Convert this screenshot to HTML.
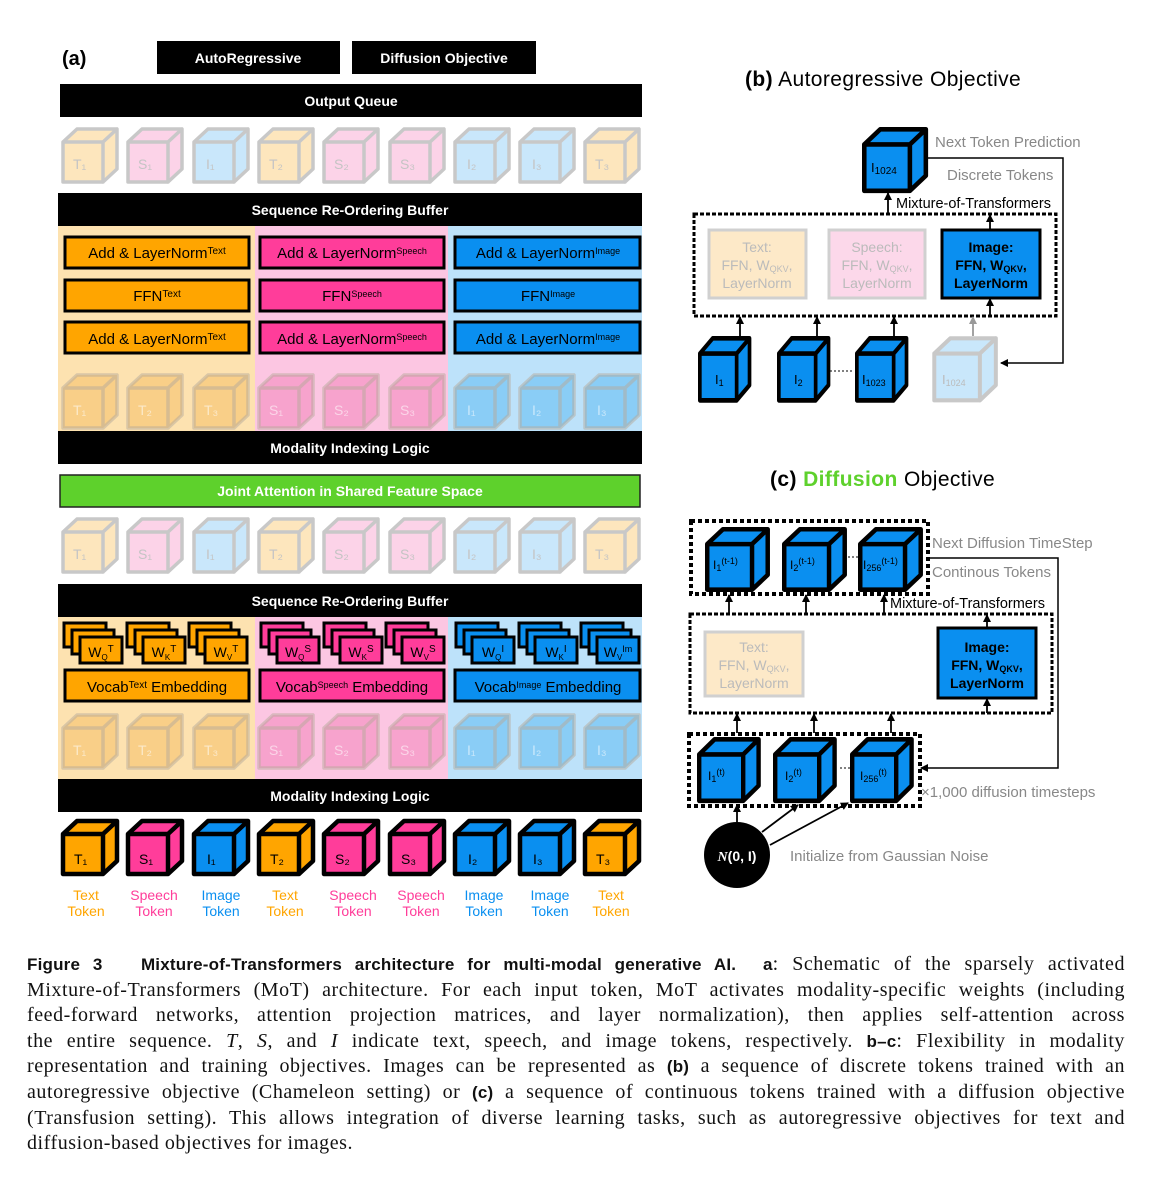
<!DOCTYPE html>
<html><head><meta charset="utf-8"><style>
body{margin:0;background:#fff;width:1159px;height:1178px;overflow:hidden;position:relative;font-family:"Liberation Sans",sans-serif}
svg{position:absolute;left:0;top:0}
.cap{position:absolute;left:27px;width:1098px;font-family:"Liberation Serif",serif;font-size:20px;letter-spacing:0.55px;line-height:25.6px;color:#111}
.cap div{text-align:justify;text-align-last:justify;white-space:nowrap;height:25.6px}
.cap div.l{text-align-last:left}
.cap b{font-family:"Liberation Sans",sans-serif;font-size:17px;letter-spacing:0.2px}
</style></head><body>
<svg width="1159" height="1178" viewBox="0 0 1159 1178" font-family="Liberation Sans, sans-serif">
<defs>
<path id="cb" d="M2 15 L16 2 L56 2 L42 15 Z M42 15 L56 2 L56 42 L42 55 Z M2 15 H42 V55 H2 Z" stroke-linejoin="round"/>
<marker id="ar" markerWidth="8" markerHeight="8" refX="7" refY="4" orient="auto" markerUnits="userSpaceOnUse"><path d="M0 0 L8 4 L0 8 Z" fill="#000"/></marker>
<marker id="ag" markerWidth="8" markerHeight="8" refX="7" refY="4" orient="auto" markerUnits="userSpaceOnUse"><path d="M0 0 L8 4 L0 8 Z" fill="#999"/></marker>
</defs>

<!-- (a) header -->
<text x="62" y="65" font-size="20" font-weight="bold">(a)</text>
<rect x="157" y="41" width="183" height="33" fill="#000"/>
<text x="248" y="63" font-size="14" font-weight="bold" fill="#fff" text-anchor="middle">AutoRegressive</text>
<rect x="352" y="41" width="184" height="33" fill="#000"/>
<text x="444" y="63" font-size="14" font-weight="bold" fill="#fff" text-anchor="middle">Diffusion Objective</text>
<rect x="60" y="84" width="582" height="33" fill="#000"/>
<text x="351" y="106" font-size="14" font-weight="bold" fill="#fff" text-anchor="middle">Output Queue</text>

<g stroke="#c8c8c8" stroke-width="3.5">
<use href="#cb" x="61" y="127" fill="#fde6bd"/><use href="#cb" x="126" y="127" fill="#fcd3e8"/><use href="#cb" x="192" y="127" fill="#c9e7fb"/>
<use href="#cb" x="257" y="127" fill="#fde6bd"/><use href="#cb" x="322" y="127" fill="#fcd3e8"/><use href="#cb" x="388" y="127" fill="#fcd3e8"/>
<use href="#cb" x="453" y="127" fill="#c9e7fb"/><use href="#cb" x="518" y="127" fill="#c9e7fb"/><use href="#cb" x="583" y="127" fill="#fde6bd"/>
</g>
<g font-size="14" fill="#c4c4c4" stroke="none">
<text x="73" y="169">T₁</text><text x="138" y="169">S₁</text><text x="206" y="169">I₁</text><text x="269" y="169">T₂</text><text x="334" y="169">S₂</text><text x="400" y="169">S₃</text><text x="467" y="169">I₂</text><text x="532" y="169">I₃</text><text x="595" y="169">T₃</text>
</g>

<rect x="58" y="193" width="584" height="33" fill="#000"/>
<text x="350" y="215" font-size="14" font-weight="bold" fill="#fff" text-anchor="middle">Sequence Re-Ordering Buffer</text>
<rect x="58" y="226" width="197" height="205" fill="#fde2b0"/>
<rect x="255" y="226" width="193" height="205" fill="#fcc6e2"/>
<rect x="448" y="226" width="194" height="205" fill="#bde2fa"/>

<g stroke="#000" stroke-width="3">
<rect x="65" y="237" width="184" height="31" fill="#ffa500"/><rect x="65" y="280" width="184" height="31" fill="#ffa500"/><rect x="65" y="322" width="184" height="31" fill="#ffa500"/>
<rect x="260" y="237" width="184" height="31" fill="#ff3d9a"/><rect x="260" y="280" width="184" height="31" fill="#ff3d9a"/><rect x="260" y="322" width="184" height="31" fill="#ff3d9a"/>
<rect x="455" y="237" width="185" height="31" fill="#0a8ff0"/><rect x="455" y="280" width="185" height="31" fill="#0a8ff0"/><rect x="455" y="322" width="185" height="31" fill="#0a8ff0"/>
</g>
<g font-size="15" text-anchor="middle" fill="#000">
<text x="157" y="258">Add &amp; LayerNorm<tspan font-size="10" dy="-4">Text</tspan></text>
<text x="157" y="301">FFN<tspan font-size="10" dy="-4">Text</tspan></text>
<text x="157" y="344">Add &amp; LayerNorm<tspan font-size="10" dy="-4">Text</tspan></text>
<text x="352" y="258">Add &amp; LayerNorm<tspan font-size="9" dy="-4">Speech</tspan></text>
<text x="352" y="301">FFN<tspan font-size="9" dy="-4">Speech</tspan></text>
<text x="352" y="344">Add &amp; LayerNorm<tspan font-size="9" dy="-4">Speech</tspan></text>
<text x="548" y="258">Add &amp; LayerNorm<tspan font-size="9" dy="-4">Image</tspan></text>
<text x="548" y="301">FFN<tspan font-size="9" dy="-4">Image</tspan></text>
<text x="548" y="344">Add &amp; LayerNorm<tspan font-size="9" dy="-4">Image</tspan></text>
</g>

<g stroke="#b5a99a" stroke-opacity="0.5" stroke-width="3.5">
<use href="#cb" x="61" y="373" fill="#f9cf88"/><use href="#cb" x="126" y="373" fill="#f9cf88"/><use href="#cb" x="192" y="373" fill="#f9cf88"/>
<use href="#cb" x="257" y="373" fill="#f7a3cd"/><use href="#cb" x="322" y="373" fill="#f7a3cd"/><use href="#cb" x="388" y="373" fill="#f7a3cd"/>
<use href="#cb" x="453" y="373" fill="#8acdf6"/><use href="#cb" x="518" y="373" fill="#8acdf6"/><use href="#cb" x="583" y="373" fill="#8acdf6"/>
</g>
<g font-size="14" fill="#fff" fill-opacity="0.55">
<text x="73" y="415">T₁</text><text x="138" y="415">T₂</text><text x="204" y="415">T₃</text><text x="269" y="415">S₁</text><text x="334" y="415">S₂</text><text x="400" y="415">S₃</text><text x="467" y="415">I₁</text><text x="532" y="415">I₂</text><text x="597" y="415">I₃</text>
</g>

<rect x="58" y="431" width="584" height="33" fill="#000"/>
<text x="350" y="453" font-size="14" font-weight="bold" fill="#fff" text-anchor="middle">Modality Indexing Logic</text>
<rect x="60" y="475" width="580" height="32" fill="#5ed12c" stroke="#222" stroke-width="1.5"/>
<text x="350" y="496" font-size="14" font-weight="bold" fill="#fff" text-anchor="middle">Joint Attention in Shared Feature Space</text>

<g stroke="#c8c8c8" stroke-width="3.5">
<use href="#cb" x="61" y="517" fill="#fde6bd"/><use href="#cb" x="126" y="517" fill="#fcd3e8"/><use href="#cb" x="192" y="517" fill="#c9e7fb"/>
<use href="#cb" x="257" y="517" fill="#fde6bd"/><use href="#cb" x="322" y="517" fill="#fcd3e8"/><use href="#cb" x="388" y="517" fill="#fcd3e8"/>
<use href="#cb" x="453" y="517" fill="#c9e7fb"/><use href="#cb" x="518" y="517" fill="#c9e7fb"/><use href="#cb" x="583" y="517" fill="#fde6bd"/>
</g>
<g font-size="14" fill="#c4c4c4">
<text x="73" y="559">T₁</text><text x="138" y="559">S₁</text><text x="206" y="559">I₁</text><text x="269" y="559">T₂</text><text x="334" y="559">S₂</text><text x="400" y="559">S₃</text><text x="467" y="559">I₂</text><text x="532" y="559">I₃</text><text x="595" y="559">T₃</text>
</g>

<rect x="58" y="584" width="584" height="33" fill="#000"/>
<text x="350" y="606" font-size="14" font-weight="bold" fill="#fff" text-anchor="middle">Sequence Re-Ordering Buffer</text>
<rect x="58" y="617" width="197" height="162" fill="#fde2b0"/>
<rect x="255" y="617" width="193" height="162" fill="#fcc6e2"/>
<rect x="448" y="617" width="194" height="162" fill="#bde2fa"/>

<g stroke="#000" stroke-width="3">
<g fill="#ffa500">
<rect x="64" y="623" width="42" height="24"/><rect x="72" y="630" width="42" height="24"/><rect x="80" y="637" width="42" height="26"/>
<rect x="127" y="623" width="42" height="24"/><rect x="135" y="630" width="42" height="24"/><rect x="143" y="637" width="42" height="26"/>
<rect x="189" y="623" width="42" height="24"/><rect x="197" y="630" width="42" height="24"/><rect x="205" y="637" width="42" height="26"/>
</g>
<g fill="#ff3d9a">
<rect x="261" y="623" width="42" height="24"/><rect x="269" y="630" width="42" height="24"/><rect x="277" y="637" width="42" height="26"/>
<rect x="324" y="623" width="42" height="24"/><rect x="332" y="630" width="42" height="24"/><rect x="340" y="637" width="42" height="26"/>
<rect x="386" y="623" width="42" height="24"/><rect x="394" y="630" width="42" height="24"/><rect x="402" y="637" width="42" height="26"/>
</g>
<g fill="#0a8ff0">
<rect x="456" y="623" width="42" height="24"/><rect x="464" y="630" width="42" height="24"/><rect x="472" y="637" width="42" height="26"/>
<rect x="519" y="623" width="42" height="24"/><rect x="527" y="630" width="42" height="24"/><rect x="535" y="637" width="42" height="26"/>
<rect x="581" y="623" width="42" height="24"/><rect x="589" y="630" width="42" height="24"/><rect x="597" y="637" width="42" height="26"/>
</g>
<rect x="65" y="670" width="184" height="31" fill="#ffa500"/>
<rect x="260" y="670" width="184" height="31" fill="#ff3d9a"/>
<rect x="455" y="670" width="185" height="31" fill="#0a8ff0"/>
</g>
<g font-size="14" fill="#000" text-anchor="middle">
<text x="101" y="657">W<tspan font-size="8" dy="3">Q</tspan><tspan font-size="10" dy="-8">T</tspan></text>
<text x="164" y="657">W<tspan font-size="8" dy="3">K</tspan><tspan font-size="10" dy="-8">T</tspan></text>
<text x="226" y="657">W<tspan font-size="8" dy="3">V</tspan><tspan font-size="10" dy="-8">T</tspan></text>
<text x="298" y="657">W<tspan font-size="8" dy="3">Q</tspan><tspan font-size="10" dy="-8">S</tspan></text>
<text x="361" y="657">W<tspan font-size="8" dy="3">K</tspan><tspan font-size="10" dy="-8">S</tspan></text>
<text x="423" y="657">W<tspan font-size="8" dy="3">V</tspan><tspan font-size="10" dy="-8">S</tspan></text>
<text x="493" y="657">W<tspan font-size="8" dy="3">Q</tspan><tspan font-size="10" dy="-8">I</tspan></text>
<text x="556" y="657">W<tspan font-size="8" dy="3">K</tspan><tspan font-size="10" dy="-8">I</tspan></text>
<text x="618" y="657">W<tspan font-size="8" dy="3">V</tspan><tspan font-size="9" dy="-8">Im</tspan></text>
<text x="157" y="692" font-size="15">Vocab<tspan font-size="10" dy="-4">Text</tspan><tspan dy="4"> Embedding</tspan></text>
<text x="352" y="692" font-size="15">Vocab<tspan font-size="9" dy="-4">Speech</tspan><tspan dy="4"> Embedding</tspan></text>
<text x="548" y="692" font-size="15">Vocab<tspan font-size="9" dy="-4">Image</tspan><tspan dy="4"> Embedding</tspan></text>
</g>

<g stroke="#b5a99a" stroke-opacity="0.5" stroke-width="3.5">
<use href="#cb" x="61" y="713" fill="#f9cf88"/><use href="#cb" x="126" y="713" fill="#f9cf88"/><use href="#cb" x="192" y="713" fill="#f9cf88"/>
<use href="#cb" x="257" y="713" fill="#f7a3cd"/><use href="#cb" x="322" y="713" fill="#f7a3cd"/><use href="#cb" x="388" y="713" fill="#f7a3cd"/>
<use href="#cb" x="453" y="713" fill="#8acdf6"/><use href="#cb" x="518" y="713" fill="#8acdf6"/><use href="#cb" x="583" y="713" fill="#8acdf6"/>
</g>
<g font-size="14" fill="#fff" fill-opacity="0.55">
<text x="73" y="755">T₁</text><text x="138" y="755">T₂</text><text x="204" y="755">T₃</text><text x="269" y="755">S₁</text><text x="334" y="755">S₂</text><text x="400" y="755">S₃</text><text x="467" y="755">I₁</text><text x="532" y="755">I₂</text><text x="597" y="755">I₃</text>
</g>

<rect x="58" y="779" width="584" height="33" fill="#000"/>
<text x="350" y="801" font-size="14" font-weight="bold" fill="#fff" text-anchor="middle">Modality Indexing Logic</text>

<g stroke="#000" stroke-width="4.5">
<use href="#cb" x="61" y="819" fill="#ffa500"/><use href="#cb" x="126" y="819" fill="#ff3d9a"/><use href="#cb" x="192" y="819" fill="#0a8ff0"/>
<use href="#cb" x="257" y="819" fill="#ffa500"/><use href="#cb" x="322" y="819" fill="#ff3d9a"/><use href="#cb" x="388" y="819" fill="#ff3d9a"/>
<use href="#cb" x="453" y="819" fill="#0a8ff0"/><use href="#cb" x="518" y="819" fill="#0a8ff0"/><use href="#cb" x="583" y="819" fill="#ffa500"/>
</g>
<g font-size="14" fill="#000">
<text x="74" y="864">T₁</text><text x="139" y="864">S₁</text><text x="207" y="864">I₁</text><text x="270" y="864">T₂</text><text x="335" y="864">S₂</text><text x="401" y="864">S₃</text><text x="468" y="864">I₂</text><text x="533" y="864">I₃</text><text x="596" y="864">T₃</text>
</g>
<g font-size="14" text-anchor="middle">
<text x="86" y="900" fill="#ffa500">Text</text><text x="86" y="916" fill="#ffa500">Token</text>
<text x="154" y="900" fill="#ff3d9a">Speech</text><text x="154" y="916" fill="#ff3d9a">Token</text>
<text x="221" y="900" fill="#0a8ff0">Image</text><text x="221" y="916" fill="#0a8ff0">Token</text>
<text x="285" y="900" fill="#ffa500">Text</text><text x="285" y="916" fill="#ffa500">Token</text>
<text x="353" y="900" fill="#ff3d9a">Speech</text><text x="353" y="916" fill="#ff3d9a">Token</text>
<text x="421" y="900" fill="#ff3d9a">Speech</text><text x="421" y="916" fill="#ff3d9a">Token</text>
<text x="484" y="900" fill="#0a8ff0">Image</text><text x="484" y="916" fill="#0a8ff0">Token</text>
<text x="550" y="900" fill="#0a8ff0">Image</text><text x="550" y="916" fill="#0a8ff0">Token</text>
<text x="611" y="900" fill="#ffa500">Text</text><text x="611" y="916" fill="#ffa500">Token</text>
</g>

<!-- (b) -->
<text x="745" y="86" font-size="21" letter-spacing="0.4"><tspan font-weight="bold">(b)</tspan> Autoregressive Objective</text>
<g transform="translate(862,127) scale(1.14,1.16)" stroke="#000" stroke-width="4"><use href="#cb" fill="#0a8ff0"/></g>
<text x="871" y="172" font-size="13">I<tspan font-size="10" dy="2">1024</tspan></text>
<text x="935" y="147" font-size="15" fill="#888">Next Token Prediction</text>
<text x="947" y="180" font-size="15" fill="#888">Discrete Tokens</text>
<polyline points="928,158 1063,158 1063,363 1001,363" fill="none" stroke="#000" stroke-width="1.5" marker-end="url(#ar)"/>
<text x="896" y="208" font-size="14.5">Mixture-of-Transformers</text>
<rect x="694" y="214" width="362" height="102" fill="#fff" stroke="#000" stroke-width="3" stroke-dasharray="4 2"/>
<rect x="709" y="230" width="97" height="68" fill="#fde9c8" stroke="#d0d0d0" stroke-width="3"/>
<rect x="829" y="230" width="96" height="68" fill="#fcd8ea" stroke="#d0d0d0" stroke-width="3"/>
<rect x="942" y="230" width="98" height="68" fill="#0a8ff0" stroke="#000" stroke-width="3"/>
<g font-size="14" text-anchor="middle">
<text x="757" y="252" fill="#bbb">Text:</text><text x="757" y="270" fill="#bbb">FFN, W<tspan font-size="9" dy="2">QKV</tspan><tspan dy="-2">,</tspan></text><text x="757" y="288" fill="#bbb">LayerNorm</text>
<text x="877" y="252" fill="#bbb">Speech:</text><text x="877" y="270" fill="#bbb">FFN, W<tspan font-size="9" dy="2">QKV</tspan><tspan dy="-2">,</tspan></text><text x="877" y="288" fill="#bbb">LayerNorm</text>
<text x="991" y="252" font-weight="bold">Image:</text><text x="991" y="270" font-weight="bold">FFN, W<tspan font-size="9" dy="2">QKV</tspan><tspan dy="-2">,</tspan></text><text x="991" y="288" font-weight="bold">LayerNorm</text>
</g>
<g stroke="#000" stroke-width="1.8" marker-end="url(#ar)">
<line x1="888" y1="214" x2="888" y2="193"/><line x1="990" y1="230" x2="990" y2="215"/><line x1="990" y1="316" x2="990" y2="299"/>
<line x1="740" y1="336" x2="740" y2="317"/><line x1="817" y1="336" x2="817" y2="317"/><line x1="894" y1="336" x2="894" y2="317"/>
</g>
<line x1="973" y1="336" x2="973" y2="317" stroke="#999" stroke-width="1.8" marker-end="url(#ag)"/>
<g stroke="#000" stroke-width="4">
<g transform="translate(698,336) scale(0.92,1.17)"><use href="#cb" fill="#0a8ff0"/></g>
<g transform="translate(777,336) scale(0.92,1.17)"><use href="#cb" fill="#0a8ff0"/></g>
<g transform="translate(855,336) scale(0.92,1.17)"><use href="#cb" fill="#0a8ff0"/></g>
</g>
<g transform="translate(932,336) scale(1.14,1.17)" stroke="#c8c8c8" stroke-width="3.5"><use href="#cb" fill="#c9e7fb"/></g>
<line x1="830" y1="371" x2="853" y2="371" stroke="#000" stroke-width="1" stroke-dasharray="2 2"/>
<g font-size="13">
<text x="715" y="384">I<tspan font-size="9" dy="2">1</tspan></text>
<text x="794" y="384">I<tspan font-size="9" dy="2">2</tspan></text>
<text x="862" y="384">I<tspan font-size="9" dy="2">1023</tspan></text>
<text x="942" y="384" fill="#bbb">I<tspan font-size="9" dy="2">1024</tspan></text>
</g>

<!-- (c) -->
<text x="770" y="486" font-size="21" letter-spacing="0.4"><tspan font-weight="bold">(c) </tspan><tspan font-weight="bold" fill="#5ed12c">Diffusion</tspan> Objective</text>
<rect x="691" y="521" width="237" height="73" fill="none" stroke="#000" stroke-width="4" stroke-dasharray="4 3"/>
<g stroke="#000" stroke-width="4">
<g transform="translate(705,527) scale(1.12,1.14)"><use href="#cb" fill="#0a8ff0"/></g>
<g transform="translate(782,527) scale(1.12,1.14)"><use href="#cb" fill="#0a8ff0"/></g>
<g transform="translate(858,527) scale(1.12,1.14)"><use href="#cb" fill="#0a8ff0"/></g>
</g>
<line x1="848" y1="557" x2="858" y2="557" stroke="#000" stroke-dasharray="2 2"/>
<g font-size="12">
<text x="713" y="569">I<tspan font-size="9" dy="2">1</tspan><tspan font-size="9" dy="-7">(t-1)</tspan></text>
<text x="790" y="569">I<tspan font-size="9" dy="2">2</tspan><tspan font-size="9" dy="-7">(t-1)</tspan></text>
<text x="863" y="569">I<tspan font-size="9" dy="2">256</tspan><tspan font-size="9" dy="-7">(t-1)</tspan></text>
</g>
<text x="932" y="548" font-size="15" fill="#888">Next Diffusion TimeStep</text>
<text x="932" y="577" font-size="15" fill="#888">Continous Tokens</text>
<polyline points="928,558 1058,558 1058,768 921,768" fill="none" stroke="#000" stroke-width="1.5" marker-end="url(#ar)"/>
<text x="890" y="608" font-size="14.5">Mixture-of-Transformers</text>
<rect x="690" y="614" width="362" height="99" fill="#fff" stroke="#000" stroke-width="3" stroke-dasharray="4 2"/>
<rect x="705" y="632" width="98" height="64" fill="#fde9c8" stroke="#d0d0d0" stroke-width="3"/>
<rect x="938" y="628" width="98" height="70" fill="#0a8ff0" stroke="#000" stroke-width="3"/>
<g font-size="14" text-anchor="middle">
<text x="754" y="652" fill="#bbb">Text:</text><text x="754" y="670" fill="#bbb">FFN, W<tspan font-size="9" dy="2">QKV</tspan><tspan dy="-2">,</tspan></text><text x="754" y="688" fill="#bbb">LayerNorm</text>
<text x="987" y="652" font-weight="bold">Image:</text><text x="987" y="670" font-weight="bold">FFN, W<tspan font-size="9" dy="2">QKV</tspan><tspan dy="-2">,</tspan></text><text x="987" y="688" font-weight="bold">LayerNorm</text>
</g>
<g stroke="#000" stroke-width="1.8" marker-end="url(#ar)">
<line x1="729" y1="614" x2="729" y2="595"/><line x1="806" y1="614" x2="806" y2="595"/><line x1="884" y1="614" x2="884" y2="595"/>
<line x1="987" y1="628" x2="987" y2="615"/><line x1="987" y1="713" x2="987" y2="699"/>
<line x1="737" y1="733" x2="737" y2="714"/><line x1="814" y1="733" x2="814" y2="714"/><line x1="891" y1="733" x2="891" y2="714"/>
<line x1="737" y1="822" x2="737" y2="805"/><line x1="762" y1="832" x2="798" y2="805"/><line x1="770" y1="845" x2="848" y2="803"/>
</g>
<rect x="689" y="734" width="231" height="72" fill="none" stroke="#000" stroke-width="4" stroke-dasharray="4 3"/>
<g stroke="#000" stroke-width="4">
<g transform="translate(697,737) scale(1.1,1.16)"><use href="#cb" fill="#0a8ff0"/></g>
<g transform="translate(773,737) scale(1.1,1.16)"><use href="#cb" fill="#0a8ff0"/></g>
<g transform="translate(850,737) scale(1.1,1.16)"><use href="#cb" fill="#0a8ff0"/></g>
</g>
<line x1="840" y1="768" x2="850" y2="768" stroke="#000" stroke-dasharray="2 2"/>
<g font-size="12">
<text x="708" y="780">I<tspan font-size="9" dy="2">1</tspan><tspan font-size="9" dy="-7">(t)</tspan></text>
<text x="785" y="780">I<tspan font-size="9" dy="2">2</tspan><tspan font-size="9" dy="-7">(t)</tspan></text>
<text x="860" y="780">I<tspan font-size="9" dy="2">256</tspan><tspan font-size="9" dy="-7">(t)</tspan></text>
</g>
<text x="921" y="797" font-size="15" fill="#888">×1,000 diffusion timesteps</text>
<circle cx="737" cy="855" r="33" fill="#000"/>
<text x="737" y="861" font-size="14" font-weight="bold" fill="#fff" text-anchor="middle"><tspan font-family="Liberation Serif, serif" font-style="italic">N</tspan>(0, I)</text>
<text x="790" y="861" font-size="15" fill="#888">Initialize from Gaussian Noise</text>
</svg>

<div class="cap" style="top:952px">
<div><b>Figure 3&nbsp;&nbsp; Mixture-of-Transformers architecture for multi-modal generative AI.</b>&nbsp; <b>a</b>: Schematic of the sparsely activated</div>
<div>Mixture-of-Transformers (MoT) architecture. For each input token, MoT activates modality-specific weights (including</div>
<div>feed-forward networks, attention projection matrices, and layer normalization), then applies self-attention across</div>
<div>the entire sequence. <i>T</i>, <i>S</i>, and <i>I</i> indicate text, speech, and image tokens, respectively. <b>b–c</b>: Flexibility in modality</div>
<div>representation and training objectives. Images can be represented as <b>(b)</b> a sequence of discrete tokens trained with an</div>
<div>autoregressive objective (Chameleon setting) or <b>(c)</b> a sequence of continuous tokens trained with a diffusion objective</div>
<div>(Transfusion setting). This allows integration of diverse learning tasks, such as autoregressive objectives for text and</div>
<div class="l">diffusion-based objectives for images.</div>
</div>
</body></html>
